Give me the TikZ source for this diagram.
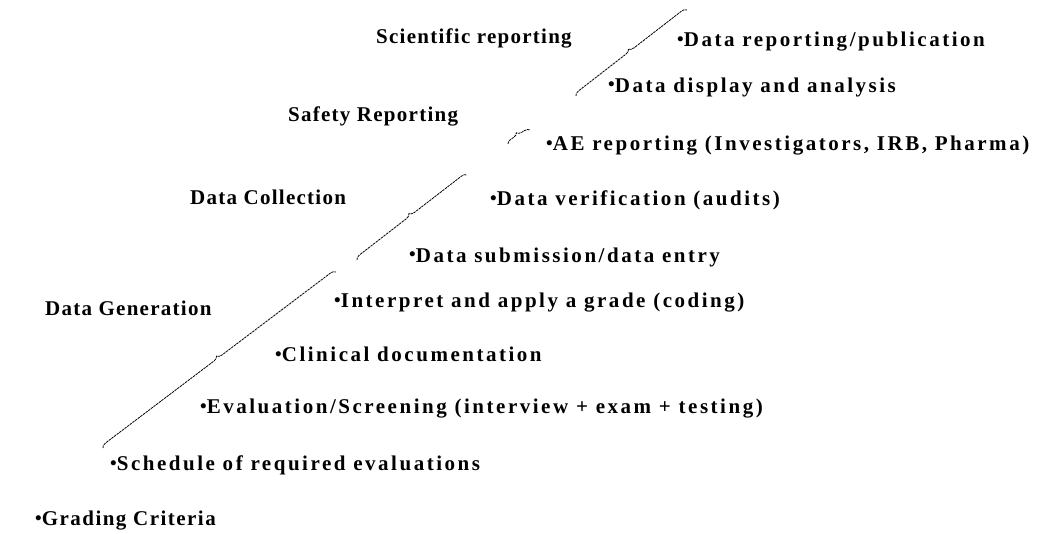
\documentclass[tikz,border=0pt]{standalone}
\usepackage{fontspec}
\setmainfont{Liberation Serif}
\newfontfamily\stagefont[LetterSpace=6]{Liberation Serif}
\newfontfamily\itemfont[LetterSpace=12]{Liberation Serif}
\newfontfamily\tightfont[LetterSpace=7]{Liberation Serif}
\usetikzlibrary{decorations.pathreplacing}
\tikzset{
    stage/.style = {anchor=west, inner sep=0pt, font=\stagefont\bfseries\fontsize{21}{24}\selectfont},
    item/.style = {anchor=west, inner sep=0pt, font=\itemfont\bfseries\fontsize{21}{24}\selectfont},
    tight item/.style = {item, font=\tightfont\bfseries\fontsize{21}{24}\selectfont},
    span/.style = {draw=black, line width=0.8pt, dash pattern=on 2.5pt off 0.8pt,
        decorate, decoration={brace, amplitude=5pt}},
}
\newcommand{\dotb}{\raisebox{0.05em}{\scalebox{0.9}{\textbullet}}}

\begin{document}
\begin{tikzpicture}[x=1pt, y=-1pt]
            \useasboundingbox (0, 0) rectangle (1056, 533);

            \node[stage] (sci) at (376, 38) {Scientific reporting};
            \node[stage] (saf) at (288, 116) {Safety Reporting};
            \node[stage] (col) at (190, 197) {Data Collection};
            \node[stage] (gen) at (45, 308) {Data Generation};

            \node[item] (pub) at (677, 42) {\dotb Data reporting/publication};
            \node[item] (disp) at (608, 87) {\dotb Data display and analysis};
            \node[item] (ae) at (546, 146) {\dotb AE reporting (Investigators, IRB, Pharma)};
            \node[item] (ver) at (490, 200) {\dotb Data verification (audits)};
            \node[item] (sub) at (409, 257) {\dotb Data submission/data entry};
            \node[item] (grade) at (334, 303) {\dotb Interpret and apply a grade (coding)};
            \node[item] (doc) at (275, 354) {\dotb Clinical documentation};
            \node[item] (eval) at (200, 409) {\dotb Evaluation/Screening (interview + exam + testing)};
            \node[item] (sched) at (110, 465) {\dotb Schedule of required evaluations};
            \node[tight item] (crit) at (35, 521) {\dotb Grading Criteria};

            \coordinate (g1) at (103, 448);
            \coordinate (g2) at (336, 272);
            \coordinate (c1) at (357, 260);
            \coordinate (c2) at (467, 175);
            \coordinate (s1) at (508, 144);
            \coordinate (s2) at (530, 130);
            \coordinate (r1) at (576, 96);
            \coordinate (r2) at (687, 10);

            \draw[span] (g1) -- (g2);
            \draw[span] (c1) -- (c2);
            \draw[span] (s1) -- (s2);
            \draw[span] (r1) -- (r2);
        \end{tikzpicture}
\end{document}
